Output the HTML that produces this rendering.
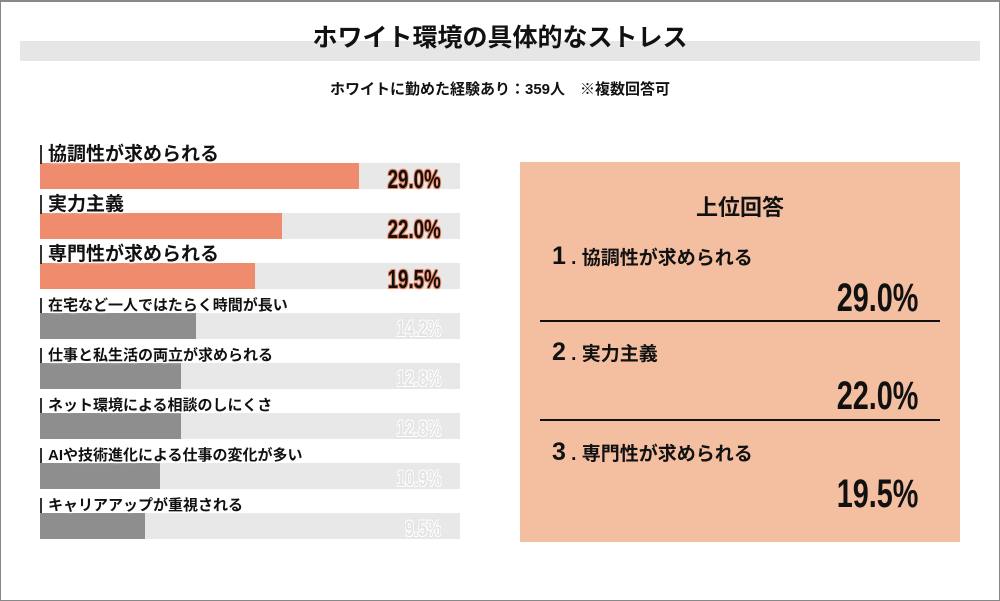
<!DOCTYPE html>
<html><head><meta charset="utf-8">
<style>
*{margin:0;padding:0;box-sizing:border-box}
body{width:1000px;height:601px;background:#fff;position:relative;overflow:hidden;font-family:"Liberation Sans","Noto Sans CJK JP",sans-serif;color:#111}
#frame{position:absolute;left:0;top:0;width:1000px;height:601px;border:1px solid #888;border-top:2px solid #888}
.abs{position:absolute}
.pct{position:absolute;font-weight:bold;transform:scaleX(0.72);transform-origin:right center;white-space:nowrap;text-align:right}
.lbl{position:absolute;white-space:nowrap;font-weight:bold;padding-left:6px;background:#fff;border-left:2px solid #333;line-height:1}
</style></head><body>
<div id="frame"></div>
<div class="abs" style="left:20px;top:41px;width:960px;height:20px;background:#e6e6e6"></div>
<div class="abs" style="left:0;width:1000px;top:18px;text-align:center;font-size:25px;font-weight:bold">ホワイト環境の具体的なストレス</div>
<div class="abs" style="left:0;width:1000px;top:78px;text-align:center;font-size:15px;font-weight:bold">ホワイトに勤めた経験あり：359人　※複数回答可</div>
<div id="bars"></div>
<div class="abs" style="left:520px;top:162px;width:440px;height:380px;background:#f4bfa1">
  <div class="abs" style="left:0;width:440px;top:28px;text-align:center;font-size:22px;font-weight:bold">上位回答</div>
  <div class="abs" style="left:32px;top:80px;font-size:19px;font-weight:bold"><span style="font-size:25px">1</span> . 協調性が求められる</div>
  <div class="pct" style="right:42px;top:114px;font-size:40px;color:#111">29.0%</div>
  <div class="abs" style="left:20px;top:158px;width:400px;height:2px;background:#111"></div>
  <div class="abs" style="left:32px;top:176px;font-size:19px;font-weight:bold"><span style="font-size:25px">2</span> . 実力主義</div>
  <div class="pct" style="right:42px;top:212px;font-size:40px;color:#111">22.0%</div>
  <div class="abs" style="left:20px;top:257px;width:400px;height:2px;background:#111"></div>
  <div class="abs" style="left:32px;top:276px;font-size:19px;font-weight:bold"><span style="font-size:25px">3</span> . 専門性が求められる</div>
  <div class="pct" style="right:42px;top:310px;font-size:40px;color:#111">19.5%</div>
</div>
<script>
const categories=["協調性が求められる","実力主義","専門性が求められる","在宅など一人ではたらく時間が長い","仕事と私生活の両立が求められる","ネット環境による相談のしにくさ","AIや技術進化による仕事の変化が多い","キャリアアップが重視される"];
const values=[29.0,22.0,19.5,14.2,12.8,12.8,10.9,9.5];
const valueLabels=["29.0%","22.0%","19.5%","14.2%","12.8%","12.8%","10.9%","9.5%"];
const X0=40,TRACK=420,SCALE=11;
function xLen(v){return v*SCALE;}
function rowY(i){return 163+i*50;}
const root=document.getElementById('bars');
categories.forEach((c,i)=>{
  const top=i<3, y=rowY(i);
  const tr=document.createElement('div');
  
  
  tr.className='abs';
  tr.style.cssText=`left:${X0}px;top:${y}px;width:${TRACK}px;height:26px;background:#e8e8e8`;
  root.appendChild(tr);
  const b=document.createElement('div');
  
  
  b.className='abs';
  b.style.cssText=`left:${X0}px;top:${y}px;width:${xLen(values[i])}px;height:26px;background:${top?'#ef8c6d':'#8e8e8e'}`;
  root.appendChild(b);
  const l=document.createElement('div');
  
  
  l.className='lbl';
  const fs=top?19:15;
  l.style.cssText=`left:${X0}px;top:${y-(top?18:15)}px;font-size:${fs}px;background:transparent;text-shadow:0 0 3px #fff,0 0 3px #fff,0 0 2px #fff`;
  l.textContent=c;
  root.appendChild(l);
  const p=document.createElement('div');
  
  
  p.className='pct';
  p.style.cssText=top?`right:${1000-441}px;top:${y+1}px;font-size:26px;color:#111;-webkit-text-stroke:0;text-shadow:-1px -1px 0 #f0855f,1px -1px 0 #f0855f,-1px 1px 0 #f0855f,1px 1px 0 #f0855f,0 0 2px #f0855f`:`right:${1000-441}px;top:${y+3}px;font-size:22px;color:#e4e4e4;text-shadow:-1px -1px 0 #fff,1px -1px 0 #fff,-1px 1px 0 #fff,1px 1px 0 #fff,0 0 2px #999`;
  p.textContent=valueLabels[i];
  root.appendChild(p);
});
</script>
</body></html>
